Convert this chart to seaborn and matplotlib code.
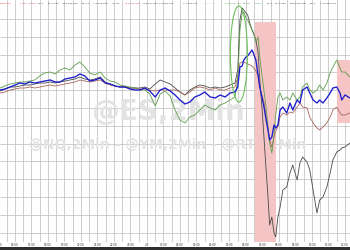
import numpy as np
import pandas as pd
import matplotlib
matplotlib.use("Agg")
import matplotlib.pyplot as plt
from matplotlib.patches import Ellipse, Rectangle
import seaborn as sns

# ---- data: minutes since 16:00 (2-minute bars) ----
minutes = [-54, -36, -18, 0, 18, 36, 54, 72, 90, 108, 128, 146, 164, 182, 200, 218,
           236, 254, 272, 290, 310, 328, 346, 364, 382, 400, 418, 436, 454, 472, 490,
           510, 528, 546, 564, 582, 600, 618, 636, 654, 672, 690, 710, 728, 746, 764,
           782, 800, 810, 818, 826, 832, 840, 846, 854, 862, 868, 876, 884, 890, 898,
           906, 912, 920, 926, 934, 942, 948, 956, 964, 974, 988, 1000, 1010, 1026,
           1036, 1046, 1062, 1072, 1084, 1098, 1108, 1120, 1134, 1146, 1156, 1170,
           1182, 1188, 1200, 1218]

# relative level of each contract, read top-down on the chart (0 = top)
es = [90, 89, 87, 85, 83, 84, 82, 83, 82, 81, 80, 82, 82, 79, 78, 77, 74, 76, 81, 80,
      78, 83, 84, 86, 87, 87, 89, 90, 90, 88, 91, 97, 90, 88, 91, 95, 100, 104, 102, 97,
      95, 92, 97, 98, 95, 97, 93, 92, 87, 67, 66, 60, 57, 56, 53, 50, 54, 60, 75, 87,
      97, 108, 118, 130, 140, 137, 125, 128, 125, 110, 107, 113, 103, 110, 100, 103, 90,
      87, 93, 100, 103, 100, 103, 98, 93, 88, 87, 93, 100, 95, 98]
nq = [88, 86, 84, 83, 82, 82, 81, 80, 76, 73, 72, 74, 70, 68, 70, 65, 62, 67, 73, 75,
      72, 78, 81, 82, 85, 86, 87, 88, 90, 90, 94, 106, 94, 91, 96, 110, 120, 123, 117,
      115, 110, 105, 108, 110, 105, 103, 100, 97, 80, 30, 13, 12, 18, 20, 25, 30, 33, 42,
      37, 57, 75, 92, 105, 127, 143, 153, 135, 115, 97, 93, 100, 97, 100, 93, 100, 97,
      87, 83, 90, 93, 90, 85, 90, 83, 73, 67, 60, 68, 72, 72, 77]
ym = [93, 92, 90, 89, 88, 88, 87, 88, 87, 86, 85, 86, 85, 84, 83, 82, 80, 81, 82, 81,
      80, 83, 85, 86, 87, 87, 88, 88, 89, 89, 90, 91, 90, 90, 90, 90, 92, 95, 92, 88, 87,
      88, 90, 88, 90, 90, 88, 87, 77, 63, 62, 62, 63, 64, 65, 66, 68, 71, 76, 87, 95,
      103, 115, 128, 140, 147, 137, 131, 127, 117, 113, 115, 112, 113, 107, 103, 107,
      108, 117, 123, 128, 130, 127, 123, 117, 110, 107, 113, 115, 115, 113]
rty = [91, 89, 87, 87, 86, 85, 85, 84, 83, 83, 82, 83, 82, 81, 80, 79, 77, 79, 80, 79,
       77, 82, 84, 86, 87, 87, 88, 88, 88, 87, 89, 84, 80, 82, 84, 88, 92, 95, 90, 87,
       85, 86, 88, 87, 88, 87, 85, 83, 70, 20, 8, 10, 13, 15, 23, 30, 34, 40, 53, 80,
       107, 140, 165, 197, 225, 217, 233, 237, 217, 207, 190, 187, 173, 165, 180, 163,
       157, 162, 170, 190, 213, 200, 197, 187, 173, 160, 152, 150, 148, 147, 143]

series_names = ["RTY", "YM", "NQ", "ES"]
series_colors = ["#4a4a4a", "#a8675e", "#5f9c4c", "#1c1ccc"]
series_widths = [0.6, 0.6, 0.6, 0.95]

hour_ticks = list(range(-60, 1201, 60))
hour_labels = ["15:00", "16:00", "17:00", "18:00", "19:00", "20:00", "21:00", "22:00",
               "23:00", "2/9", "01:00", "02:00", "03:00", "04:00", "05:00", "06:00",
               "07:00", "08:00", "09:00", "10:00", "11:00", "12:00"]

shade_start = [872, 1171]
shade_end = [949, 1240]
shade_top = [22, 60]
shade_bottom = [242, 123]

circle_center = (814, 54)
circle_size = (62, 96)

header_items = [
    (0, "6,608.000", "#d03030"), (20, "-1.000", "#d03030"), (29, "-0.01%", "#d03030"),
    (38, "TS=1", "#333333"), (48, "TS=1,560", "#333333"), (63, "B=6,068.000", "#333333"),
    (82, "BS=15", "#333333"), (93, "A=6,068.500", "#333333"), (112, "AS=45", "#333333"),
    (125, "O=6,071.500", "#d03030"), (143, "H=6,077.000", "#333333"),
    (159, "L=6,060.000", "#333333"), (183, "V=1,453,271", "#333333"),
    (202, "2.7,644,738", "#c8d8c8"), (225, "L=20,805.750", "#3aa03a"),
    (243, "53.500", "#3aa03a"), (255, "0.25%", "#3aa03a"), (267, "TS=1", "#333333"),
    (275, "TS=1,560", "#333333"), (290, "B=20,803.000", "#333333"),
    (310, "BS=2", "#333333"), (320, "A=20,803.000", "#333333"),
]

# ---- build frame ----
rows = []
for name, vals in zip(series_names, [rty, ym, nq, es]):
    for m, v in zip(minutes, vals):
        rows.append({"minute": m, "level": v, "series": name})
df = pd.DataFrame(rows)

sns.set_style("white")
fig = plt.figure(figsize=(3.5, 2.5), dpi=100)
ax = fig.add_axes([0, 8 / 250, 1, 242 / 250])
ax.set_xlim(-54.5, 1218.2)
ax.set_ylim(242, 0)

# grid
ax.set_xticks(np.arange(-30, 1230, 30))
ax.set_yticks(np.arange(19, 240, 17.8))
ax.grid(True, color="#c0c0c0", linewidth=0.55)
ax.tick_params(length=0, labelleft=False, labelbottom=False)
for s in ax.spines.values():
    s.set_visible(False)

# watermark
ax.text(0.48, 1 - 112 / 242, "@ES,2Min", transform=ax.transAxes, ha="center",
        va="center", fontsize=20, fontweight="bold", color="#e3e3e3", zorder=1)
ax.text(0.478, 1 - 145 / 242, "@NQ,2Min - @YM,2Min - @RTY,2Min", transform=ax.transAxes,
        ha="center", va="center", fontsize=10, fontweight="bold", color="#e3e3e3", zorder=1)

# shaded zones
for x0, x1, y0, y1 in zip(shade_start, shade_end, shade_top, shade_bottom):
    ax.add_patch(Rectangle((x0, y0), x1 - x0, y1 - y0, facecolor="#f5c4c4",
                           edgecolor="none", zorder=1.5))

# lines
for name, col, lw in zip(series_names, series_colors, series_widths):
    sns.lineplot(data=df[df["series"] == name], x="minute", y="level", color=col,
                 linewidth=lw, ax=ax, legend=False, zorder=3)
ax.set_xlabel("")
ax.set_ylabel("")

ax.add_patch(Ellipse(circle_center, circle_size[0], circle_size[1], fill=False,
                     edgecolor="#6cc05a", linewidth=0.8, zorder=4))

# header quote strip
for xp, txt, col in header_items:
    fig.text(xp / 350, 1 - 3.5 / 250, txt, fontsize=1.75, color=col, ha="left",
             va="center")

# time labels
for t, lab in zip(hour_ticks, hour_labels):
    xf = (t + 54.5) / (1218.2 + 54.5)
    fig.text(xf, 1 - 244.5 / 250, lab, fontsize=2.0, color="#333333", ha="center",
             va="center")

# bottom dark strip
strip = fig.add_axes([0, 0, 1, 3.5 / 250])
strip.set_facecolor("#2e2e2e")
strip.set_xticks([])
strip.set_yticks([])
for s in strip.spines.values():
    s.set_visible(False)

fig.savefig("out.png", dpi=100)
